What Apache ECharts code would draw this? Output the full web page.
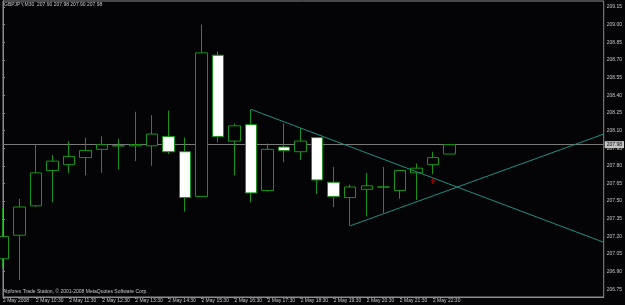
<!DOCTYPE html>
<html>
<head>
<meta charset="utf-8">
<script src="https://cdn.jsdelivr.net/npm/echarts@6/dist/echarts.min.js"></script>
<style>
  html, body { margin: 0; padding: 0; background: #040306; }
  #chart { width: 625px; height: 305px; }
</style>
</head>
<body>
<div id="chart"></div>
<script>
// GBPJPY M30, 2 May 2008 (bar index 0 = 09:30)
const opens  = [207.01, 207.21, 207.46, 207.76, 207.81, 207.87, 207.94, 207.97, 207.97, 207.97,
                208.05, 207.92, 207.54, 208.74, 208.01, 208.15, 207.59, 207.96, 207.92, 208.04,
                207.66, 207.53, 207.60, 207.62, 207.59, 207.74, 207.81, 207.90];
const closes = [207.20, 207.45, 207.74, 207.84, 207.88, 207.93, 207.98, 207.97, 207.98, 208.07,
                207.92, 207.53, 208.76, 208.05, 208.14, 207.57, 207.94, 207.93, 208.01, 207.68,
                207.54, 207.62, 207.63, 207.62, 207.76, 207.78, 207.87, 207.98];
const lows   = [206.93, 206.83, 207.45, 207.49, 207.74, 207.72, 207.74, 207.77, 207.84, 207.80,
                207.90, 207.41, 207.54, 208.00, 207.72, 207.49, 207.58, 207.83, 207.85, 207.56,
                207.45, 207.29, 207.37, 207.40, 207.52, 207.51, 207.73, 207.90];
const highs  = [207.44, 207.52, 207.98, 207.89, 208.01, 208.04, 208.05, 208.03, 208.26, 208.23,
                208.27, 208.04, 209.00, 208.77, 208.16, 208.28, 207.99, 208.16, 208.12, 208.04,
                207.79, 207.64, 207.74, 207.79, 207.76, 207.82, 207.92, 207.98];

// hand-drawn trend lines: [bar index, price]
const trendDown = [[15, 208.28], [36.33, 207.15]];
const trendUp   = [[21, 207.29], [36.33, 208.07]];
const arrowMark = [[26, 207.67]];

const bidPrice = 207.98;

const yTicks = [206.75, 206.90, 207.05, 207.20, 207.35, 207.50, 207.65, 207.80, 207.95,
                208.10, 208.25, 208.40, 208.55, 208.70, 208.85, 209.00, 209.15];
const xTickIdx = [0, 2, 4, 6, 8, 10, 12, 14, 16, 18, 20, 22, 24, 26];
const xLabels = ['2 May 2008', '2 May 10:30', '2 May 11:30', '2 May 12:30', '2 May 13:30',
                 '2 May 14:30', '2 May 15:30', '2 May 16:30', '2 May 17:30', '2 May 18:30',
                 '2 May 19:30', '2 May 20:30', '2 May 21:30', '2 May 22:30'];

const FONT = 'Liberation Sans';
const GREEN = '#149614';
const FRAME = '#8c8c8c';
const TEXT = '#c8c8c8';

const candles = opens.map((o, i) => [i, o, closes[i], lows[i], highs[i]]);

const chart = echarts.init(document.getElementById('chart'));

chart.setOption({
  animation: false,
  backgroundColor: '#040306',
  grid: {
    left: 2, right: 20, top: 1, bottom: 8,
    show: true,
    borderColor: FRAME,
    borderWidth: 1,
  },
  graphic: [
    {
      type: 'text', left: 4, top: 2,
      style: { text: 'GBPJPY,M30  207.90 207.98 207.90 207.98', fill: TEXT, font: '5px "Liberation Sans"' },
    },
    {
      type: 'text', left: 3, top: 289,
      style: { text: 'Alpforex Trade Station, © 2001-2008 MetaQuotes Software Corp.', fill: TEXT, font: '5px "Liberation Sans"' },
    },
  ],
  xAxis: {
    type: 'value',
    min: 0,
    max: 36.33,
    axisLine: { show: true, onZero: false, lineStyle: { color: FRAME } },
    axisTick: { show: true, length: 2, customValues: xTickIdx, lineStyle: { color: FRAME } },
    axisLabel: {
      customValues: xTickIdx,
      align: 'left',
      margin: 1,
      color: TEXT,
      fontSize: 5,
      fontFamily: FONT,
      formatter: (v) => xLabels[xTickIdx.indexOf(v)] || '',
    },
    splitLine: { show: false },
  },
  yAxis: {
    type: 'value',
    position: 'right',
    min: 206.685,
    max: 209.201,
    axisLine: { show: true, lineStyle: { color: FRAME } },
    axisTick: { show: true, length: 2, customValues: yTicks, lineStyle: { color: FRAME } },
    axisLabel: {
      customValues: yTicks,
      margin: 3,
      color: TEXT,
      fontSize: 5,
      fontFamily: FONT,
      formatter: (v) => v.toFixed(2),
    },
    splitLine: { show: false },
  },
  series: [
    {
      // bid line
      type: 'line',
      data: [],
      z: 1,
      markLine: {
        silent: true,
        symbol: 'none',
        data: [{ yAxis: bidPrice }],
        lineStyle: { color: '#7a7a7a', type: 'solid', width: 1 },
        label: {
          position: 'end',
          distance: 1,
          formatter: bidPrice.toFixed(2),
          backgroundColor: '#c4c4c4',
          color: '#000',
          fontSize: 5,
          fontFamily: FONT,
          padding: [1, 2],
        },
        emphasis: { disabled: true },
      },
    },
    {
      type: 'candlestick',
      data: candles,
      encode: { x: 0, y: [1, 2, 3, 4] },
      barWidth: 12,
      z: 10,
      itemStyle: {
        color: '#040306',
        color0: '#ffffff',
        borderColor: GREEN,
        borderColor0: GREEN,
        borderWidth: 1,
      },
    },
    {
      type: 'line',
      data: trendDown,
      z: 11,
      symbol: 'none',
      lineStyle: { color: '#1e9080', width: 1 },
    },
    {
      type: 'line',
      data: trendUp,
      z: 11,
      symbol: 'none',
      lineStyle: { color: '#1e9080', width: 1 },
    },
    {
      type: 'scatter',
      data: arrowMark,
      z: 12,
      symbol: 'path://M5,0 L10,5 L7,5 L7,10 L3,10 L3,5 L0,5 Z',
      symbolSize: [5, 6],
      itemStyle: { color: '#b00000' },
    },
  ],
});
</script>
</body>
</html>
